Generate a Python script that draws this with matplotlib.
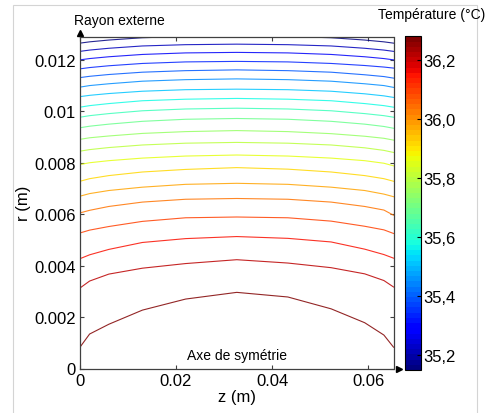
import numpy as np
import matplotlib
matplotlib.use("Agg")
from matplotlib import pyplot as plt
from matplotlib import colors as mcolors
from matplotlib import cm
from matplotlib.patches import Rectangle

plt.rcParams['font.family'] = ['Liberation Sans', 'DejaVu Sans']

z_pts = [0.0, 0.002, 0.006, 0.013, 0.022, 0.03265, 0.0433, 0.0523, 0.0593, 0.0633, 0.0653]

# isotherm radius (mm) at each z position, hottest (bottom) to coldest (top)
r_z0000 = [0.83, 3.13, 4.27, 5.27, 6.05, 6.70, 7.28, 7.93, 8.45, 8.91,
           9.36, 9.77, 10.16, 10.57, 10.94, 11.31, 11.65, 12.00, 12.33, 12.65]
r_z0020 = [1.34, 3.40, 4.42, 5.38, 6.15, 6.80, 7.38, 8.00, 8.51, 8.97,
           9.42, 9.83, 10.22, 10.62, 11.00, 11.36, 11.70, 12.05, 12.38, 12.70]
r_z0060 = [1.72, 3.67, 4.63, 5.52, 6.30, 6.92, 7.50, 8.08, 8.59, 9.04,
           9.50, 9.91, 10.30, 10.69, 11.07, 11.43, 11.77, 12.12, 12.45, 12.77]
r_z0130 = [2.27, 3.90, 4.90, 5.72, 6.47, 7.05, 7.64, 8.18, 8.69, 9.14,
           9.61, 10.02, 10.41, 10.78, 11.17, 11.52, 11.86, 12.21, 12.54, 12.86]
r_z0220 = [2.70, 4.08, 5.05, 5.86, 6.58, 7.16, 7.74, 8.26, 8.76, 9.21,
           9.69, 10.09, 10.47, 10.84, 11.23, 11.58, 11.92, 12.27, 12.59, 12.91]
r_z0327 = [2.96, 4.23, 5.13, 5.89, 6.61, 7.20, 7.81, 8.30, 8.79, 9.25,
           9.72, 10.12, 10.50, 10.86, 11.26, 11.61, 11.94, 12.29, 12.61, 12.92]
r_z0433 = [2.78, 4.10, 5.06, 5.86, 6.58, 7.16, 7.75, 8.26, 8.76, 9.21,
           9.69, 10.09, 10.47, 10.84, 11.23, 11.58, 11.92, 12.27, 12.59, 12.91]
r_z0523 = [2.32, 3.92, 4.92, 5.73, 6.47, 7.05, 7.64, 8.18, 8.69, 9.13,
           9.61, 10.02, 10.41, 10.78, 11.17, 11.52, 11.86, 12.21, 12.54, 12.86]
r_z0593 = [1.78, 3.68, 4.64, 5.53, 6.30, 6.92, 7.50, 8.08, 8.58, 9.03,
           9.50, 9.91, 10.30, 10.68, 11.07, 11.42, 11.78, 12.12, 12.45, 12.77]
r_z0633 = [1.30, 3.42, 4.43, 5.39, 6.16, 6.78, 7.38, 7.98, 8.48, 8.95,
           9.41, 9.83, 10.22, 10.60, 11.00, 11.35, 11.72, 12.05, 12.38, 12.70]
r_z0653 = [0.83, 3.17, 4.29, 5.25, 5.96, 6.68, 7.28, 7.88, 8.40, 8.88,
           9.34, 9.77, 10.16, 10.54, 10.93, 11.29, 11.68, 12.00, 12.33, 12.65]

# temperature of each isotherm (degC), same order
T_levels = [36.28, 36.22, 36.16, 36.10, 36.04, 35.98, 35.92, 35.86, 35.80, 35.75,
            35.69, 35.63, 35.57, 35.51, 35.45, 35.39, 35.33, 35.27, 35.21, 35.15]

cbar_ticks = [35.2, 35.4, 35.6, 35.8, 36.0, 36.2]
x_ticks = [0, 0.02, 0.04, 0.06]
y_ticks = [0, 0.002, 0.004, 0.006, 0.008, 0.01, 0.012]

W, H = 498, 414
fig = plt.figure(figsize=(W / 100, H / 100), dpi=100)

# light grey frame around the figure
fig.patches.append(Rectangle((13 / W, -0.05), 464 / W, 1 - 6 / H + 0.05,
                             transform=fig.transFigure, fill=False,
                             edgecolor='#d4d4d4', linewidth=0.8))

ax = fig.add_axes([80 / W, 1 - 369.5 / H, 313.5 / W, 331.8 / H])
cax = fig.add_axes([405 / W, 1 - 371 / H, 16 / W, 333.7 / H])

norm = mcolors.Normalize(vmin=35.15, vmax=36.28)
cmap = plt.get_cmap('jet', 64)

R = np.column_stack([r_z0000, r_z0020, r_z0060, r_z0130, r_z0220, r_z0327,
                     r_z0433, r_z0523, r_z0593, r_z0633, r_z0653]) * 1e-3
for T, r_row in zip(T_levels, R):
    ax.plot(z_pts, r_row, color=plt.get_cmap('jet')(norm(T)), lw=0.8, alpha=0.85)

ax.set_xlim(0, 0.0653)
ax.set_ylim(0, 0.0129)
ax.set_xticks(x_ticks)
ax.set_xticklabels(['0', '0.02', '0.04', '0.06'])
ax.set_yticks(y_ticks)
ax.set_yticklabels(['0', '0.002', '0.004', '0.006', '0.008', '0.01', '0.012'])
ax.tick_params(direction='in', length=3, width=0.8, labelsize=12, pad=3,
               top=True, right=True, color='#404040')
for s in ax.spines.values():
    s.set_color('#404040')
    s.set_linewidth(0.9)
ax.set_xlabel('z (m)', fontsize=12, labelpad=1)
ax.set_ylabel('r (m)', fontsize=12, labelpad=2)

# axis arrows
ax.plot([0], [1.012], marker='^', ms=4, color='k', transform=ax.transAxes, clip_on=False)
ax.plot([1.018], [0], marker='>', ms=4, color='k', transform=ax.transAxes, clip_on=False)

ax.text(0.0326, 0.00053, 'Axe de symétrie', ha='center', va='center', fontsize=10)
fig.text(74 / W, 1 - 21 / H, 'Rayon externe', ha='left', va='center', fontsize=10)
fig.text(432 / W, 1 - 15 / H, 'Température (°C)', ha='center', va='center', fontsize=10)

cb = fig.colorbar(cm.ScalarMappable(norm=norm, cmap=cmap), cax=cax)
cb.set_ticks(cbar_ticks)
cb.set_ticklabels([f"{v:.1f}".replace('.', ',') for v in cbar_ticks])
cb.ax.tick_params(direction='in', length=3, width=0.8, labelsize=12, pad=2)
cb.outline.set_linewidth(0.8)

fig.savefig('out.png', dpi=100)
